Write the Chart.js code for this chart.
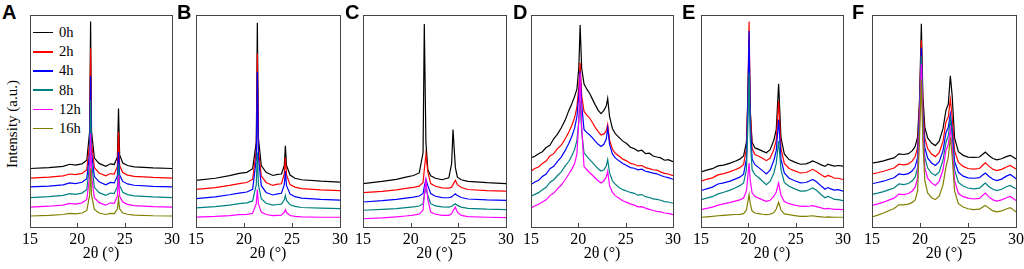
<!DOCTYPE html>
<html>
<head>
<meta charset="utf-8">
<title>XRD patterns A-F</title>
<script src="https://cdn.jsdelivr.net/npm/chart.js"></script>
<style>
  body { margin: 0; background: #fff; width: 1024px; height: 269px; overflow: hidden; position: relative; font-family: 'Liberation Serif', 'Times New Roman', serif; color: #000; }
  .panel { position: absolute; top: 0; height: 269px; }
  .letter { position: absolute; top: 2px; font: bold 20px 'Liberation Sans', Arial, sans-serif; line-height: 20px; }
  #ylabel { position: absolute; left: 12px; top: 124px; transform: translate(-50%, -50%) rotate(-90deg); font-size: 15px; white-space: nowrap; }
  #legend { position: absolute; left: 33px; top: 23px; font-size: 14.5px; }
  #legend div { height: 19.2px; display: flex; align-items: center; }
  #legend .sw { display: inline-block; width: 20px; height: 1.5px; margin-right: 6px; }
</style>
</head>
<body>
<div id="ylabel">Intensity (a.u.)</div>
<div id="legend"></div>

<script>
// series colours / names (same in every panel)
const names = ['0h', '2h', '4h', '8h', '12h', '16h'];
const colors = ['#000000', '#ff0000', '#0000ff', '#008080', '#ff00ff', '#808000'];

// ---- Panel A ----
const xA = [15, 17, 18.5, 19.2, 19.8, 20.5, 21.0, 21.3, 21.4, 21.5, 21.8, 22.3, 23.0, 23.5, 23.9, 24.23, 24.35, 24.47, 24.8, 25.3, 26, 28, 30];
const A_0h = [27.6, 28.0, 28.6, 29.6, 29.2, 29.8, 31.5, 45, 96.9, 45, 32.5, 30.0, 28.6, 29.8, 29.5, 33, 55.9, 34, 30.2, 29.0, 28.4, 27.9, 27.6];
const A_2h = [23.1, 23.5, 24.1, 25.0, 24.7, 25.3, 27, 40, 84.3, 40, 28, 25.5, 24.1, 25.2, 25.0, 28.5, 44.9, 29, 25.7, 24.5, 23.9, 23.4, 23.1];
const A_4h = [18.9, 19.3, 19.9, 20.8, 20.5, 21.1, 22.8, 35, 71.2, 35, 23.8, 21.3, 19.9, 21.0, 20.8, 24, 35.4, 24.5, 21.5, 20.3, 19.7, 19.2, 18.9];
const A_8h = [13.9, 14.3, 14.9, 15.7, 15.4, 16.0, 17.7, 30, 59.8, 30, 18.7, 16.2, 14.9, 16.0, 15.8, 19, 29.9, 19.5, 16.4, 15.3, 14.7, 14.2, 13.9];
const A_12h = [9.4, 9.8, 10.3, 11.1, 10.8, 11.4, 13.0, 24, 44.1, 24, 13.8, 11.5, 10.3, 11.4, 11.2, 14.5, 24.4, 14.5, 11.8, 10.7, 10.1, 9.6, 9.4];
const A_16h = [5.2, 5.5, 5.9, 6.4, 6.2, 6.6, 7.8, 15, 27.6, 15, 8.3, 6.6, 5.9, 6.4, 6.3, 8.5, 13.4, 8.6, 6.6, 6.0, 5.6, 5.3, 5.2];

// ---- Panel B ----
const xB = [15, 17, 18.5, 19.5, 20.3, 20.9, 21.28, 21.39, 21.5, 21.8, 22.3, 23.0, 23.5, 23.9, 24.2, 24.31, 24.43, 24.8, 25.3, 26, 28, 30];
const B_0h = [22.0, 23.0, 24.2, 25.3, 25.8, 27.5, 40, 96.4, 42, 29, 25.8, 24.3, 24.8, 25.0, 29, 38.3, 29, 24.5, 23.0, 22.3, 21.6, 21.2];
const B_2h = [17.7, 18.6, 19.6, 20.5, 21.0, 22.5, 36, 81.8, 37, 24, 21.0, 19.6, 20.2, 20.4, 25, 32.8, 24.5, 20.0, 18.8, 18.1, 17.5, 17.2];
const B_4h = [13.4, 14.2, 15.2, 16.0, 16.5, 17.8, 32, 73.1, 33, 19.5, 16.3, 15.1, 15.6, 15.9, 20, 26.4, 19.5, 15.5, 14.3, 13.6, 13.0, 12.7];
const B_8h = [9.0, 9.6, 10.3, 11.0, 11.4, 12.3, 20, 35.1, 20, 13.3, 11.2, 10.3, 10.6, 10.8, 12.8, 14.9, 12.5, 10.5, 9.7, 9.2, 8.9, 8.7];
const B_12h = [4.7, 5.0, 5.4, 5.8, 6.0, 6.5, 11, 17.7, 11, 7.0, 5.9, 5.4, 5.5, 5.6, 7.0, 8.2, 6.8, 5.4, 5.0, 4.8, 4.6, 4.6];

// ---- Panel C ----
const xC = [15, 17, 18.5, 19.5, 20.3, 20.9, 21.3, 21.43, 21.6, 21.8, 22.1, 22.6, 23.3, 24.0, 24.3, 24.44, 24.69, 24.9, 25.3, 26, 28, 30];
const C_0h = [20.5, 21.5, 22.5, 23.5, 24.3, 25.5, 35, 95.7, 40, 27, 24.2, 23.0, 22.3, 23.2, 30, 46, 28, 23.5, 22.3, 21.5, 20.9, 20.5];
const C_2h = [16.2, 16.8, 17.5, 18.2, 18.7, 19.3, 21, 27, 34.3, 26, 20.5, 19.2, 18.5, 18.3, 18.8, 20, 22.0, 20, 18.6, 17.7, 17.2, 16.9];
const C_4h = [11.8, 12.4, 13.0, 13.6, 14.1, 14.6, 15.8, 19, 22.5, 19.5, 15.8, 14.5, 13.9, 13.8, 14.2, 14.8, 15.7, 14.8, 13.9, 13.2, 12.8, 12.6];
const C_8h = [7.9, 8.3, 8.7, 9.1, 9.5, 9.9, 11, 15, 18.1, 15, 11, 10, 9.5, 9.4, 9.8, 10.3, 11.0, 10.2, 9.4, 8.8, 8.4, 8.2];
const C_12h = [3.9, 4.3, 4.8, 5.2, 5.6, 6.1, 8, 15, 22.0, 13, 7, 6.0, 5.5, 5.5, 6.2, 7.5, 9.4, 7.0, 5.5, 4.9, 4.6, 4.4];

// ---- Panel D ----
const xD = [15, 15.4, 15.8, 16.2, 16.6, 17, 17.4, 17.8, 18.2, 18.6, 19, 19.3, 19.6, 19.85, 20.05, 20.19, 20.35, 20.6, 20.9, 21.2, 21.5, 21.8, 22.1, 22.4, 22.7, 22.95, 23.1, 23.3, 23.6, 23.9, 24.3, 24.7, 25.1, 25.5, 25.9, 26.3, 26.7, 27.1, 27.5, 27.9, 28.3, 28.7, 29.1, 29.5, 30];
const D_0h = [32.6, 33.4, 34.6, 35.5, 37.5, 38.5, 41.6, 43.8, 46.8, 50.3, 55.0, 58.0, 61.5, 65.0, 75, 95.3, 75, 67.5, 65.0, 63.0, 60.2, 57.5, 55.0, 53.5, 55.0, 57.0, 60.6, 52.0, 46.5, 44.0, 42.3, 40.5, 39.4, 37.6, 37.0, 35.8, 36.2, 34.6, 34.8, 33.5, 33.0, 32.6, 31.5, 31.8, 30.8];
const D_2h = [26.3, 27.6, 28.3, 30.0, 31.1, 33.5, 34.6, 37.0, 38.6, 41.5, 44.8, 47.8, 51.5, 56.5, 66, 77.5, 62, 54.5, 52.8, 51.4, 49.2, 46.9, 45.0, 43.4, 43.9, 45.3, 48.3, 41.0, 36.8, 34.8, 33.5, 32.0, 31.2, 30.0, 29.6, 28.8, 29.0, 28.0, 27.5, 27.0, 26.8, 26.0, 25.3, 25.0, 24.2];
const D_4h = [20.0, 21.2, 22.0, 23.8, 25.0, 27.5, 28.6, 31.0, 33.0, 36.0, 39.5, 42.6, 46.5, 52.0, 62, 73.5, 58, 46.0, 44.5, 43.4, 42.0, 40.4, 39.0, 38.0, 39.0, 41.5, 46.8, 39.0, 34.5, 32.6, 31.2, 30.0, 29.0, 28.0, 27.7, 27.0, 27.3, 26.3, 25.9, 25.4, 25.1, 24.3, 23.7, 23.3, 22.5];
const D_8h = [14.5, 15.4, 16.2, 17.6, 18.7, 21.0, 22.3, 24.3, 26.0, 28.7, 31.0, 33.5, 36.5, 40.8, 50, 59.4, 45, 35.0, 33.3, 31.8, 30.4, 28.8, 27.5, 26.4, 27.0, 28.8, 31.8, 25.5, 21.8, 20.2, 18.6, 17.6, 17.0, 16.3, 15.9, 15.0, 15.3, 14.3, 13.9, 13.3, 13.0, 12.6, 12.0, 11.8, 11.2];
const D_12h = [9.0, 9.9, 10.7, 11.8, 12.8, 14.8, 16.0, 18.0, 19.8, 22.3, 25.0, 27.2, 29.8, 34.5, 50, 72.8, 48, 28.5, 27.0, 25.6, 24.4, 23.0, 21.8, 20.8, 21.8, 23.5, 26.3, 19.5, 16.3, 14.8, 13.6, 12.4, 11.6, 10.9, 10.3, 9.5, 9.6, 8.9, 8.3, 7.8, 7.4, 7.1, 6.6, 6.4, 5.8];

// ---- Panel E ----
const xE = [15, 15.6, 16.2, 16.8, 17.4, 18, 18.6, 19.1, 19.5, 19.8, 19.95, 20.08, 20.2, 20.4, 20.7, 21.1, 21.5, 21.9, 22.3, 22.7, 22.95, 23.2, 23.45, 23.8, 24.3, 24.9, 25.5, 26.1, 26.5, 26.8, 27.2, 27.7, 28.1, 28.4, 28.7, 29.1, 29.5, 30];
const E_0h = [26.0, 26.8, 27.5, 28.8, 29.2, 30.0, 31.0, 32.0, 33.5, 40, 60, 88, 55, 40, 37.3, 36.6, 35.8, 35.0, 36.5, 41.0, 46, 67.6, 42, 34.5, 31.8, 30.6, 29.6, 29.8, 30.5, 31.2, 30.4, 29.3, 28.6, 29.6, 29.2, 28.7, 29.0, 28.7];
const E_2h = [21.6, 22.5, 23.2, 24.6, 25.2, 26.0, 27.0, 28.0, 29.5, 37, 62, 96.9, 55, 37, 34.2, 33.4, 32.4, 31.3, 32.5, 36.5, 41, 59.4, 37, 30.0, 27.6, 26.5, 25.5, 25.7, 26.5, 27.2, 26.2, 24.7, 23.6, 24.3, 23.9, 23.0, 23.0, 22.4];
const E_4h = [17.2, 18.0, 18.8, 20.3, 20.8, 21.5, 22.6, 23.5, 24.9, 32, 58, 92.4, 50, 32, 29.4, 28.0, 26.6, 25.0, 26.8, 31.5, 36, 50.7, 32, 25.5, 23.0, 21.8, 20.8, 21.0, 21.8, 22.4, 21.3, 19.3, 17.8, 18.6, 18.0, 17.4, 17.6, 16.9];
const E_8h = [12.9, 13.6, 14.3, 15.6, 16.4, 17.3, 18.4, 19.5, 20.8, 27, 48, 72.8, 42, 27, 24.7, 23.2, 21.6, 20.0, 21.5, 25.5, 30, 40.5, 27, 21.0, 19.2, 18.0, 16.9, 17.0, 17.8, 18.4, 17.3, 15.2, 13.8, 14.4, 13.9, 13.0, 12.9, 12.4];
const E_12h = [8.2, 8.8, 9.4, 10.3, 10.9, 11.5, 12.2, 12.8, 13.7, 17, 24, 30.2, 22, 16, 14.5, 13.6, 12.8, 12.1, 12.6, 14.5, 16.5, 20.8, 15, 12.0, 11.0, 10.3, 9.8, 9.7, 9.9, 10.1, 9.6, 9.0, 8.6, 8.8, 8.6, 8.3, 8.3, 8.2];
const E_16h = [4.6, 4.8, 5.0, 5.3, 5.5, 5.7, 5.9, 6.0, 6.3, 8, 12, 15.3, 11, 7.5, 6.6, 6.3, 6.0, 5.8, 6.0, 6.8, 8.5, 11.7, 8, 6.2, 5.8, 5.4, 5.0, 5.0, 5.2, 5.3, 5.0, 4.8, 4.6, 4.8, 4.7, 4.6, 4.6, 4.6];

// ---- Panel F ----
const xF = [15, 15.6, 16.2, 16.8, 17.3, 17.8, 18.3, 18.8, 19.2, 19.5, 19.75, 19.95, 20.14, 20.3, 20.5, 20.8, 21.2, 21.6, 22.0, 22.4, 22.7, 22.95, 23.16, 23.35, 23.6, 24.0, 24.5, 25.0, 25.6, 26.2, 26.5, 26.8, 27.2, 27.6, 28.0, 28.5, 29.0, 29.4, 29.7, 30];
const F_0h = [30.1, 30.6, 31.2, 32.0, 32.6, 34.5, 34.2, 34.6, 36.0, 38.0, 42.5, 60, 95.9, 62, 47, 42, 39.6, 38.4, 40.5, 46.5, 55, 58, 71.3, 62, 42, 35.5, 33.8, 33.0, 32.8, 33.0, 34.2, 35.3, 33.6, 32.3, 31.7, 32.2, 33.2, 33.8, 33.0, 32.1];
const F_2h = [25.1, 25.6, 26.3, 27.1, 27.8, 29.6, 29.3, 29.8, 31.2, 33.2, 37.5, 58, 88.1, 57, 42, 37, 34.4, 33.2, 35.0, 40.5, 49.5, 52, 60.3, 52, 36, 30.5, 28.6, 27.6, 27.3, 27.6, 29.0, 30.3, 28.6, 27.2, 26.6, 27.2, 28.3, 29.0, 28.2, 27.4];
const F_4h = [20.4, 21.0, 21.6, 22.5, 23.2, 25.0, 24.7, 25.2, 26.5, 28.4, 33, 55, 84.6, 53, 37.5, 32.5, 30.2, 29.0, 30.8, 36, 44.5, 47, 53.3, 46, 31, 25.8, 24.0, 23.2, 23.0, 23.3, 24.4, 25.5, 23.8, 22.5, 21.9, 22.6, 24.0, 24.8, 23.8, 22.7];
const F_8h = [15.4, 16.0, 16.7, 17.6, 18.4, 20.3, 20.0, 20.5, 21.8, 23.6, 28, 52, 80.7, 50, 33, 27.8, 25.4, 24.3, 26.0, 31.5, 40, 43, 50.9, 43, 27, 21.0, 19.3, 18.4, 18.0, 18.3, 19.6, 20.7, 19.0, 17.8, 17.2, 17.8, 19.0, 19.6, 18.8, 18.0];
const F_12h = [10.2, 10.9, 11.7, 12.8, 13.6, 15.5, 15.3, 15.8, 17.0, 18.8, 23, 48, 76.8, 46, 28, 23, 20.8, 19.6, 21.5, 27, 36.1, 39, 46.2, 38, 22, 15.8, 14.3, 13.6, 13.2, 13.5, 14.8, 16.0, 14.2, 12.8, 12.2, 12.8, 13.8, 14.4, 13.4, 12.5];
const F_16h = [4.7, 5.6, 6.6, 7.8, 8.7, 10.5, 10.4, 10.8, 11.6, 12.8, 17, 42, 69.7, 40, 22, 16, 13.8, 12.9, 14.5, 20, 28.2, 33, 42.3, 33, 17, 11.0, 9.4, 8.6, 8.2, 8.4, 9.3, 10.2, 8.8, 7.6, 7.1, 7.6, 8.5, 9.1, 8.2, 7.1];

// panel layout: letter, plot left edge, plot width, x values, series
const panels = [
  { letter: 'A', letterX: 2,   left: 30,  width: 142, x: xA, ys: [A_0h, A_2h, A_4h, A_8h, A_12h, A_16h] },
  { letter: 'B', letterX: 177, left: 196, width: 144, x: xB, ys: [B_0h, B_2h, B_4h, B_8h, B_12h] },
  { letter: 'C', letterX: 345, left: 363, width: 143, x: xC, ys: [C_0h, C_2h, C_4h, C_8h, C_12h] },
  { letter: 'D', letterX: 513, left: 531, width: 142, x: xD, ys: [D_0h, D_2h, D_4h, D_8h, D_12h] },
  { letter: 'E', letterX: 682, left: 701, width: 142, x: xE, ys: [E_0h, E_2h, E_4h, E_8h, E_12h, E_16h] },
  { letter: 'F', letterX: 852, left: 872, width: 144, x: xF, ys: [F_0h, F_2h, F_4h, F_8h, F_12h, F_16h] }
];

// box around plot area + small inward ticks
const framePlugin = {
  id: 'frame',
  afterDraw(chart) {
    const { ctx, chartArea: a, scales: { x } } = chart;
    ctx.save();
    ctx.strokeStyle = '#444';
    ctx.lineWidth = 1;
    ctx.strokeRect(a.left + 0.5, a.top + 0.5, a.right - a.left, a.bottom - a.top);
    [20, 25].forEach(v => {
      const px = Math.round(x.getPixelForValue(v)) + 0.5;
      ctx.beginPath();
      ctx.moveTo(px, a.bottom);
      ctx.lineTo(px, a.bottom - 4);
      ctx.stroke();
    });
    ctx.restore();
  }
};

function makePanel(p) {
  const letter = document.createElement('div');
  letter.className = 'letter';
  letter.style.left = p.letterX + 'px';
  letter.textContent = p.letter;
  document.body.appendChild(letter);

  const wrap = document.createElement('div');
  wrap.className = 'panel';
  wrap.style.left = (p.left - 20) + 'px';
  wrap.style.width = (p.width + 40) + 'px';
  const canvas = document.createElement('canvas');
  wrap.appendChild(canvas);
  document.body.appendChild(wrap);

  const datasets = p.ys.map((ys, i) => ({
    label: names[i],
    data: p.x.map((xv, j) => ({ x: xv, y: ys[j] })),
    borderColor: colors[i],
    borderWidth: 1.2,
    pointRadius: 0,
    tension: 0,
    order: p.ys.length - i   // later samples drawn on top
  }));

  new Chart(canvas, {
    type: 'line',
    data: { datasets },
    options: {
      responsive: true,
      maintainAspectRatio: false,
      animation: false,
      layout: { padding: { left: 20, right: 20, top: 15, bottom: 6 } },
      plugins: { legend: { display: false }, tooltip: { enabled: false } },
      scales: {
        x: {
          type: 'linear', min: 15, max: 30,
          ticks: { stepSize: 5, color: '#000', padding: 3, maxRotation: 0, font: { family: 'Liberation Serif', size: 16 } },
          grid: { display: false, drawTicks: false },
          border: { display: false },
          title: { display: true, text: '2θ (°)', color: '#000', padding: 0, font: { family: 'Liberation Serif', size: 16 } },
          afterFit: axis => { axis.height = 36; }
        },
        y: { display: false, min: 0, max: 100 }
      }
    },
    plugins: [framePlugin]
  });
}

panels.forEach(makePanel);

// legend (panel A only)
const legend = document.getElementById('legend');
names.forEach((n, i) => {
  const row = document.createElement('div');
  const sw = document.createElement('span');
  sw.className = 'sw';
  sw.style.background = colors[i];
  row.appendChild(sw);
  row.appendChild(document.createTextNode(n));
  legend.appendChild(row);
});
</script>
</body>
</html>
